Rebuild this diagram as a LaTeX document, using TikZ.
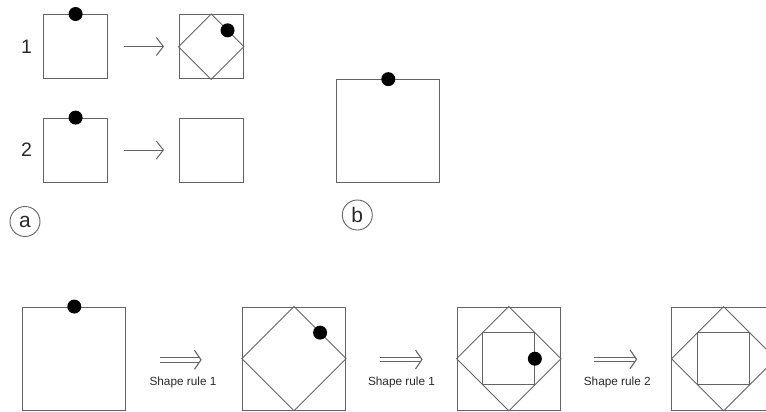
\documentclass[tikz,border=0pt]{standalone}
\usepackage{fontspec}
\setmainfont{Liberation Sans}
\usetikzlibrary{arrows.meta,calc}
\definecolor{lc}{RGB}{100,100,100}
\definecolor{tc}{RGB}{40,40,40}
\tikzset{
  frame/.style={draw=lc, line width=1pt, rectangle, inner sep=0pt, minimum size=#1},
  frame/.default=64.4pt,
  bigframe/.style={frame=103.3pt},
  edge/.style={draw=lc, line width=0.9pt},
  dot/.style={circle, fill=black, inner sep=0pt, minimum size=14pt},
  rulenum/.style={text=tc, font=\fontsize{19.5}{22}\selectfont, inner sep=0pt},
  tag/.style={circle, draw=lc, line width=0.9pt, minimum size=30pt, inner sep=0pt,
    text=tc, font=\fontsize{21}{24}\selectfont},
  rulelabel/.style={text=tc, font=\fontsize{11.8}{14}\selectfont, inner sep=0pt},
  onearrow/.style={draw=lc, line width=1pt, -{Straight Barb[length=7pt,width=18pt]}},
  twin/.style={draw=lc, line width=1.1pt, double=white, double distance=3.4pt, shorten >=2pt},
  chevron/.style={draw=lc, line width=1.1pt, line join=miter},
}
% a diamond through the edge midpoints of a square node
\newcommand{\diamondin}[1]{\draw[edge] (#1.north) -- (#1.east) -- (#1.south) -- (#1.west) -- cycle;}
% the square through the edge midpoints of that diamond
\newcommand{\innersq}[1]{\draw[edge] ($(#1.center)!0.5!(#1.north west)$) rectangle ($(#1.center)!0.5!(#1.south east)$);}
\begin{document}
\begin{tikzpicture}[x=1pt, y=-1pt]
  \useasboundingbox (0,0) rectangle (766,412);
  \clip (0,0) rectangle (766,412);

  % ---- (a) the two shape rules ----
  \node[rulenum] (n1) at (26.5,46.5) {1};
  \node[rulenum] (n2) at (26.5,150) {2};

  \node[frame] (r1l) at (75.6,46.7) {};
  \node[dot] (d1) at (r1l.north) {};
  \node[frame] (r1r) at (211.2,46.7) {};
  \diamondin{r1r}
  \node[dot] (d1r) at ($(r1r.north)!0.5!(r1r.east)$) {};

  \node[frame] (r2l) at (75.6,150.3) {};
  \node[dot] (d2) at (r2l.north) {};
  \node[frame] (r2r) at (211.2,150.3) {};

  \coordinate (a1s) at (124,46.5);
  \coordinate (a1e) at (164,46.5);
  \coordinate (a2s) at (124,150);
  \coordinate (a2e) at (164,150);
  \draw[onearrow] (a1s) -- (a1e);
  \draw[onearrow] (a2s) -- (a2e);

  \node[tag] (ta) at (25,221.5) {a};

  % ---- (b) the initial shape ----
  \node[bigframe] (sb) at (388.3,131.3) {};
  \node[dot] (db) at (sb.north) {};
  \node[tag] (tb) at (357.3,215) {b};

  % ---- derivation ----
  \node[bigframe] (s1) at (74.3,358.7) {};
  \node[dot] (ds1) at (s1.north) {};

  \node[bigframe] (s2) at (294,358.7) {};
  \diamondin{s2}
  \node[dot] (ds2) at ($(s2.north)!0.5!(s2.east)$) {};

  \node[bigframe] (s3) at (508.8,358.7) {};
  \diamondin{s3}
  \innersq{s3}
  \node[dot] (ds3) at ($(s3.center)!0.5!(s3.east)$) {};

  \node[bigframe] (s4) at (723.6,358.7) {};
  \diamondin{s4}
  \innersq{s4}

  % derivation steps: a doubled shaft closed by an open chevron
  \coordinate (b1s) at (160,359.8);
  \coordinate (b1e) at (201,359.8);
  \coordinate (b2s) at (380,359.5);
  \coordinate (b2e) at (422,359.5);
  \coordinate (b3s) at (593.5,359.3);
  \coordinate (b3e) at (636.5,359.3);
  \foreach \s/\e in {b1s/b1e, b2s/b2e, b3s/b3e}{
    \draw[twin] (\s) -- (\e);
    \draw[chevron] ($(\e)+(-6.5pt,-9.5pt)$) -- (\e) -- ($(\e)+(-6.5pt,9.5pt)$);
  }
  \node[rulelabel] (l1) at (183,382) {Shape rule 1};
  \node[rulelabel] (l2) at (401.5,382) {Shape rule 1};
  \node[rulelabel] (l3) at (617.3,382) {Shape rule 2};
\end{tikzpicture}
\end{document}
